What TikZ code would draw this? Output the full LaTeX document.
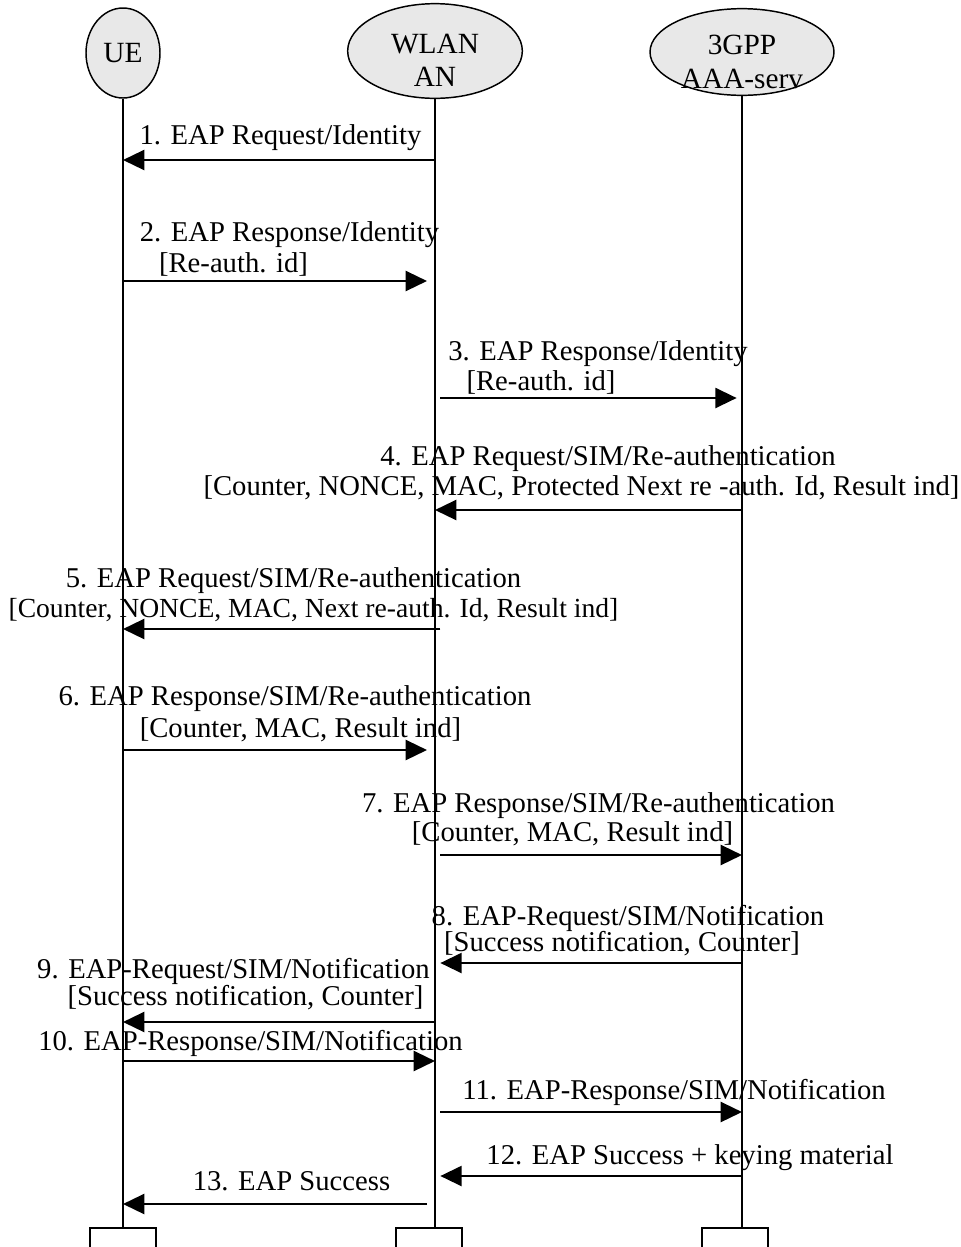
\documentclass[tikz,border=0pt]{standalone}
\usepackage{fontspec}
\setmainfont{Liberation Serif}
\usetikzlibrary{arrows.meta,shapes.geometric}

\newcommand{\msgfont}{\fontsize{21.5}{23}\selectfont}
\newcommand{\actorfont}{\fontsize{22}{25}\selectfont}
\tikzset{
    actor/.style={ellipse, draw, line width=1.1pt, fill=gray!18, inner sep=0pt},
    endbox/.style={rectangle, draw, line width=1.5pt, minimum width=50pt, minimum height=26pt, inner sep=0pt},
    life/.style={line width=1.1pt},
    msg/.style={line width=1.8pt, -{Triangle[length=16pt,width=15pt]}},
    lbl/.style={font=\msgfont, anchor=base, inner sep=0pt},
}

\begin{document}
\begin{tikzpicture}[x=0.75pt,y=-0.75pt]
        \useasboundingbox (0,0) rectangle (961,1247);

        \node[actor, minimum width=55.5pt, minimum height=67.5pt] (ue) at (123,53) {};
        \node[font=\actorfont] (uetxt) at (ue) {UE};
        \node[actor, minimum width=131pt, minimum height=71pt] (wlan) at (435,51) {};
        \node[font=\actorfont, align=center, yshift=-7pt] (wlantxt) at (wlan) {WLAN\\AN};
        \node[actor, minimum width=138pt, minimum height=65pt] (aaa) at (742,52) {};
        \node[font=\actorfont, align=center, yshift=-7.5pt] (aaatxt) at (aaa) {3GPP\\AAA-serv};

        \node[endbox] (ueend) at (123,1245) {};
        \node[endbox] (wlanend) at (429,1245) {};
        \node[endbox] (aaaend) at (735,1245) {};

        \draw[life] (ue) -- (ue |- ueend.north);
        \draw[life] (wlan) -- (wlan |- wlanend.north);
        \draw[life] (aaa) -- (aaa |- aaaend.north);

        % messages
        \draw[msg] (wlan |- 0,160) -- (ue |- 0,160);
        \node[lbl] (m1) at (280.5,144) {1. EAP Request/Identity};

        \draw[msg, shorten >=6pt] (ue |- 0,281) -- (wlan |- 0,281);
        \node[lbl] (m2a) at (289.5,241) {2. EAP Response/Identity};
        \node[lbl] (m2b) at (233.5,272) {[Re-auth. id]};

        \draw[msg, shorten <=4pt, shorten >=4pt] (wlan |- 0,398) -- (aaa |- 0,398);
        \node[lbl] (m3a) at (598,360) {3. EAP Response/Identity};
        \node[lbl] (m3b) at (541,390) {[Re-auth. id]};

        \draw[msg] (aaa |- 0,510) -- (wlan |- 0,510);
        \node[lbl] (m4a) at (608,465) {4. EAP Request/SIM/Re-authentication};
        \node[lbl] (m4b) at (581.5,495) {[Counter, NONCE, MAC, Protected Next re -auth. Id, Result ind]};

        \draw[msg, shorten <=-4pt] (wlan |- 0,629) -- (ue |- 0,629);
        \node[lbl] (m5a) at (293.5,587) {5. EAP Request/SIM/Re-authentication};
        \node[lbl, font=\fontsize{20.7}{23}\selectfont] (m5b) at (313.5,617) {[Counter, NONCE, MAC, Next re-auth. Id, Result ind]};

        \draw[msg, shorten >=6pt] (ue |- 0,750) -- (wlan |- 0,750);
        \node[lbl] (m6a) at (295,705) {6. EAP Response/SIM/Re-authentication};
        \node[lbl] (m6b) at (300.5,737) {[Counter, MAC, Result ind]};

        \draw[msg, shorten <=4pt] (wlan |- 0,855) -- (aaa |- 0,855);
        \node[lbl] (m7a) at (598.5,812) {7. EAP Response/SIM/Re-authentication};
        \node[lbl] (m7b) at (572.5,841) {[Counter, MAC, Result ind]};

        \draw[msg, shorten >=4pt] (aaa |- 0,963) -- (wlan |- 0,963);
        \node[lbl] (m8a) at (628,925) {8. EAP-Request/SIM/Notification};
        \node[lbl] (m8b) at (622,951) {[Success notification, Counter]};

        \draw[msg] (wlan |- 0,1022) -- (ue |- 0,1022);
        \node[lbl] (m9a) at (233.5,978) {9. EAP-Request/SIM/Notification};
        \node[lbl] (m9b) at (245.5,1005) {[Success notification, Counter]};

        \draw[msg] (ue |- 0,1061) -- (wlan |- 0,1061);
        \node[lbl] (m10) at (250.5,1050) {10. EAP-Response/SIM/Notification};

        \draw[msg, shorten <=4pt] (wlan |- 0,1112) -- (aaa |- 0,1112);
        \node[lbl] (m11) at (674,1099) {11. EAP-Response/SIM/Notification};

        \draw[msg, shorten >=4pt] (aaa |- 0,1176) -- (wlan |- 0,1176);
        \node[lbl] (m12) at (690,1164) {12. EAP Success + keying material};

        \draw[msg, shorten <=6pt] (wlan |- 0,1204) -- (ue |- 0,1204);
        \node[lbl] (m13) at (291.5,1190) {13. EAP Success};
    \end{tikzpicture}
\end{document}
